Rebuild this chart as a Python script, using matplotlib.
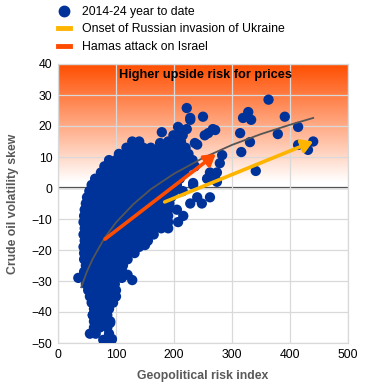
import numpy as np
import matplotlib
matplotlib.use("Agg")
import matplotlib.pyplot as plt
from matplotlib.colors import LinearSegmentedColormap
from matplotlib.lines import Line2D

plt.rcParams['font.family'] = ['Liberation Sans', 'DejaVu Sans']

# ---- data ----
core_rows = {
    -49: [78, 92],
    -47: [55, 65, 88],
    -45: [62, 72, 85],
    -43: [62, 75, 90],
    -41: [60, 72, 85],
    -39: [62, 75, 88],
    -37: [58, 70, 82, 95],
    -35: [55, 67, 80, 92, 100],
    -33: [52, 64, 76, 88, 100],
    -31: [48, 60, 72, 85, 98],
    -29: [35, 48, 60, 72, 85, 98, 110],
    -27: [45, 57, 70, 82, 95, 108],
    -25: [48, 60, 72, 85, 98, 112],
    -23: [45, 57, 70, 82, 95, 108, 120],
    -21: [45, 58, 70, 82, 95, 108, 120, 132],
    -19: [44, 56, 68, 80, 92, 104, 116, 128, 140],
    -17: [46, 58, 70, 82, 94, 106, 118, 130, 142, 155],
    -15: [44, 56, 68, 80, 92, 104, 116, 128, 140, 152, 165],
    -13: [46, 58, 70, 82, 94, 106, 118, 130, 142, 154, 166, 178, 190],
    -11: [44, 56, 68, 80, 92, 104, 116, 128, 140, 152, 164, 176, 190, 207],
    -9: [45, 57, 69, 81, 93, 105, 117, 129, 141, 153, 165, 177, 190, 216],
    -7: [46, 58, 70, 82, 94, 106, 118, 130, 142, 154, 166, 178, 190, 205],
    -5: [48, 60, 72, 84, 96, 108, 120, 132, 144, 156, 168, 180, 192, 228, 248],
    -3: [50, 62, 74, 86, 98, 110, 122, 134, 146, 158, 170, 182, 195, 240, 262],
    -1: [54, 66, 78, 90, 102, 114, 126, 138, 150, 162, 174, 186, 200, 215],
    1: [58, 70, 82, 94, 106, 118, 130, 142, 154, 166, 178, 190, 205, 233],
    3: [64, 76, 88, 100, 112, 124, 136, 148, 160, 172, 184, 196, 210, 257, 271],
    5: [74, 86, 98, 110, 122, 134, 146, 158, 170, 182, 194, 206, 218, 262, 274],
    7: [80, 92, 104, 116, 128, 140, 152, 164, 176, 188, 200, 212, 224, 236],
    9: [88, 100, 112, 124, 136, 148, 160, 172, 184, 196, 208, 220, 232],
    11: [105, 117, 129, 141, 153, 165, 177, 189, 201, 213, 225],
    13: [118, 132, 147, 160, 175, 190, 205, 220],
    15: [128, 140, 190, 200, 212],
    17: [199, 215],
    19: [210, 222],
}

scattered_points = [
    (110, -26.5), (120, -28), (128, -29.7), (150, -18.4),
    (60, -41), (90, -43.5), (93, -48.7),
    (279, 8), (283, 10.6), (236, 14.5), (176, 14.5), (179, 18), (207, 19.7),
    (228, 22.6), (228, 22), (222, 25.8), (250, 23), (267, 19), (253, 17),
    (240, 14), (271, 18.7), (259, 17.7), (274, 2), (233, 1.6),
    (363, 28.5), (328, 24.5), (333, 22), (319, 22.6), (391, 23), (414, 19.7),
    (379, 17.4), (314, 17.7), (331, 14.8), (316, 11.6), (341, 5.5),
    (414, 13.9), (431, 12.3), (440, 15),
]

trend_x = [40, 50, 60, 80, 100, 130, 160, 200, 250, 300, 350, 400, 440]
trend_y = [-32, -26.9, -22.8, -16.2, -11.1, -5.2, -0.4, 4.6, 9.7, 13.9, 17.4, 20.4, 22.6]

ukraine_start = (184, -4.5)
ukraine_end = (440, 15)
hamas_start = (81, -16.5)
hamas_end = (272, 11)

x_ticks = [0, 100, 200, 300, 400, 500]
y_ticks = [-50, -40, -30, -20, -10, 0, 10, 20, 30, 40]

geo_risk = [x for y, xs in core_rows.items() for x in xs] + [p[0] for p in scattered_points]
skew = [y for y, xs in core_rows.items() for x in xs] + [p[1] for p in scattered_points]

BLUE = '#003399'
YELLOW = '#FFB400'
ORANGE = '#FF4B00'
GREY_TXT = '#595959'

fig = plt.figure(figsize=(3.74, 3.86), dpi=100)
ax = fig.add_axes([58/374, 1-343/386, 290/374, 279/386])

# gradient background (white near zero -> orange at top)
cmap = LinearSegmentedColormap.from_list('bg', ['#FFFFFF', '#FF4E00'])
grad = np.linspace(0, 1, 256).reshape(-1, 1)
ax.imshow(grad, extent=[0, 500, 2, 40], origin='lower', aspect='auto',
          cmap=cmap, zorder=0, interpolation='bilinear')

ax.set_xlim(0, 500)
ax.set_ylim(-50, 40)
ax.set_xticks(x_ticks)
ax.set_yticks(y_ticks)
ax.grid(True, color='#D9D9D9', lw=0.9, zorder=1)
ax.set_axisbelow(False)
for s in ax.spines.values():
    s.set_color('#D9D9D9')
    s.set_linewidth(0.9)
ax.tick_params(length=0, labelsize=8.8, colors='#000000', pad=4)

ax.axhline(0, color='#404040', lw=1.6, zorder=2)

ax.scatter(geo_risk, skew, s=55, color=BLUE, edgecolors='none', zorder=3)

ax.plot(trend_x, trend_y, color='#555555', lw=1.3, zorder=4)

ax.annotate('', xy=ukraine_end, xytext=ukraine_start,
            arrowprops=dict(arrowstyle='-|>,head_length=0.65,head_width=0.4',
                            color=YELLOW, lw=2.6, shrinkA=0, shrinkB=0), zorder=5)
ax.annotate('', xy=hamas_end, xytext=hamas_start,
            arrowprops=dict(arrowstyle='-|>,head_length=0.65,head_width=0.4',
                            color=ORANGE, lw=2.6, shrinkA=0, shrinkB=0), zorder=6)

ax.text(254, 36.5, 'Higher upside risk for prices', ha='center', va='center',
        fontsize=9.2, fontweight='bold', color='#000000', zorder=7)

ax.set_xlabel('Geopolitical risk index', fontsize=8.8, fontweight='bold', color=GREY_TXT, labelpad=7)
ax.set_ylabel('Crude oil volatility skew', fontsize=8.8, fontweight='bold', color=GREY_TXT, labelpad=9)

handles = [
    Line2D([], [], marker='o', ls='none', color=BLUE, markersize=7.5),
    Line2D([], [], color=YELLOW, lw=3.5),
    Line2D([], [], color=ORANGE, lw=3.5),
]
labels = ['2014-24 year to date', 'Onset of Russian invasion of Ukraine', 'Hamas attack on Israel']
fig.legend(handles, labels, loc='upper left', bbox_to_anchor=(53/374, 1 - 1/386),
           frameon=False, fontsize=8.8, handlelength=1.0, handletextpad=1.0,
           labelspacing=0.45, borderaxespad=0)

fig.savefig('out.png', dpi=100)
